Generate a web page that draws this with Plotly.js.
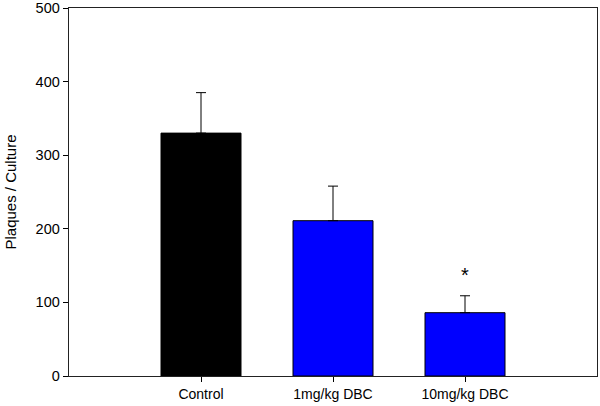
<!DOCTYPE html>
<html>
<head>
<meta charset="utf-8">
<script src="https://cdn.plot.ly/plotly-3.0.1.min.js"></script>
<style>html,body{margin:0;padding:0;background:#fff;}#chart{width:600px;height:406px;}</style>
</head>
<body>
<div id="chart"></div>
<script>
const categories = ["Control", "1mg/kg DBC", "10mg/kg DBC"];
const values = [330, 211, 86];
const errors = [55, 47, 23];
const barColors = ["#000000", "#0000ff", "#0000ff"];
const sigMarks = ["", "", "*"];
const yTicks = [0, 100, 200, 300, 400, 500];

const xIdx = categories.map((_, i) => i);

const trace = {
  type: "bar",
  x: xIdx,
  y: values,
  width: 0.606,
  marker: { color: barColors, line: { color: "#000", width: 1 } },
  error_y: { type: "data", array: errors, symmetric: false, arrayminus: errors.map(() => 0), color: "#000", thickness: 1, width: 5 },
  hoverinfo: "none"
};

const annotations = sigMarks.map((m, i) => m ? {
  x: i, y: values[i] + errors[i] + 28, text: m, showarrow: false,
  font: { family: "Liberation Sans, Arial, sans-serif", size: 20, color: "#000" }
} : null).filter(a => a);

const layout = {
  width: 600, height: 406,
  margin: { l: 69, r: 3, t: 8, b: 30 },
  paper_bgcolor: "#fff", plot_bgcolor: "#fff",
  showlegend: false,
  font: { family: "Liberation Sans, Arial, sans-serif", size: 14, color: "#000" },
  xaxis: {
    range: [-1, 3],
    tickvals: xIdx, ticktext: categories,
    ticks: "outside", ticklen: 5, tickcolor: "#000",
    showline: true, linecolor: "#222", linewidth: 1.3, mirror: true,
    showgrid: false, zeroline: false,
    tickfont: { size: 14 }
  },
  yaxis: {
    range: [0, 500],
    tickvals: yTicks,
    ticks: "outside", ticklen: 5, tickcolor: "#000",
    ticklabeloverflow: "allow",
    showline: true, linecolor: "#222", linewidth: 1.3, mirror: true,
    showgrid: false, zeroline: false,
    tickfont: { size: 14.5 },
    title: { text: "Plaques / Culture", font: { size: 15 }, standoff: 15 }
  },
  annotations: annotations
};

Plotly.newPlot("chart", [trace], layout, { displayModeBar: false, staticPlot: true });
</script>
</body>
</html>
